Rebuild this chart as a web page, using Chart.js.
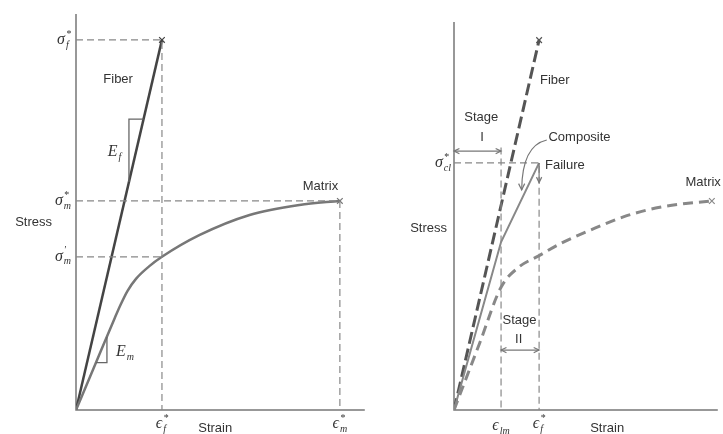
<!DOCTYPE html>
<html>
<head>
<meta charset="utf-8">
<script src="https://cdn.jsdelivr.net/npm/chart.js@4.4.1/dist/chart.umd.min.js"></script>
<style>
  body { margin: 0; background: #fff; width: 723px; height: 434px; overflow: hidden; position: relative; }
  canvas { position: absolute; top: 0; }
  #left { left: 0; }
  #right { left: 370px; }
</style>
</head>
<body>
<canvas id="left" width="370" height="434"></canvas>
<canvas id="right" width="353" height="434"></canvas>
<script>
// strain in units of the fiber failure strain, stress in arbitrary units

// left panel: fiber and matrix alone
const fiberStrain = [0, 1.0];
const fiberStress = [0, 10.0];
const matrixStrain = [0, 0.2, 0.45, 0.52, 0.6, 0.7, 0.85, 1.0, 1.44, 2.02, 2.6, 3.07];
const matrixStress = [0, 1.1, 2.48, 2.85, 3.22, 3.55, 3.88, 4.14, 4.73, 5.27, 5.54, 5.65];
const leftStressMarks = [10.0, 5.65, 4.14];   // sigma_f*, sigma_m*, sigma_m'
const leftStrainMarks = [1.0, 3.07];          // eps_f*, eps_m*

// right panel: composite
const fiber2Strain = [0, 1.0];
const fiber2Stress = [0, 10.0];
const compositeStrain = [0, 0.553, 1.0];
const compositeStress = [0, 4.54, 6.68];
const matrix2Strain = [0, 0.3, 0.553, 0.76, 0.99, 1.26, 1.6, 1.99, 2.37, 2.75, 3.03];
const matrix2Stress = [0, 1.8, 3.32, 3.86, 4.16, 4.51, 4.86, 5.22, 5.46, 5.59, 5.65];
const rightStressMarks = [6.68];              // sigma_cl*
const rightStrainMarks = [0.553, 1.0];        // eps_lm, eps_f*

const TXT = '#333';
const GUIDE = '#888';
const SANS = '"Liberation Sans", Arial, sans-serif';
const SERIF = '"Liberation Serif", "DejaVu Serif", serif';

function pts(xs, ys) {
  return xs.map((x, i) => ({ x: x, y: ys[i] }));
}

function guide(points) {
  return {
    data: points, showLine: true, borderColor: GUIDE, borderWidth: 1.2,
    borderDash: [7, 4], pointRadius: 0, fill: false
  };
}

function sym(ctx, x, y, base, sub, sup, align) {
  const big = 'italic 16px ' + SERIF;
  const small = 'italic 10px ' + SERIF;
  ctx.font = big;
  const wb = ctx.measureText(base).width;
  ctx.font = small;
  const ws = Math.max(sub ? ctx.measureText(sub).width : 0, sup ? ctx.measureText(sup).width : 0);
  const total = wb + 1 + ws;
  let x0 = x;
  if (align === 'right') x0 = x - total;
  if (align === 'center') x0 = x - total / 2;
  ctx.fillStyle = TXT;
  ctx.textAlign = 'left';
  ctx.textBaseline = 'middle';
  ctx.font = big;
  ctx.fillText(base, x0, y);
  ctx.font = small;
  if (sup) ctx.fillText(sup, x0 + wb + 1, y - 6);
  if (sub) ctx.fillText(sub, x0 + wb + 1, y + 5);
}

function label(ctx, text, x, y, align) {
  ctx.font = '13px ' + SANS;
  ctx.fillStyle = TXT;
  ctx.textAlign = align || 'left';
  ctx.textBaseline = 'middle';
  ctx.fillText(text, x, y);
}

function head(ctx, x, y, ang, size) {
  ctx.beginPath();
  ctx.moveTo(x - size * Math.cos(ang - 0.45), y - size * Math.sin(ang - 0.45));
  ctx.lineTo(x, y);
  ctx.lineTo(x - size * Math.cos(ang + 0.45), y - size * Math.sin(ang + 0.45));
  ctx.stroke();
}

function doubleArrow(ctx, x1, x2, y) {
  ctx.beginPath();
  ctx.moveTo(x1, y);
  ctx.lineTo(x2, y);
  ctx.stroke();
  head(ctx, x1, y, Math.PI, 6);
  head(ctx, x2, y, 0, 6);
}

function drawAxes(ctx, area) {
  ctx.save();
  ctx.strokeStyle = '#777';
  ctx.lineWidth = 1.5;
  ctx.beginPath();
  ctx.moveTo(area.left, area.top);
  ctx.lineTo(area.left, area.bottom);
  ctx.lineTo(area.right, area.bottom);
  ctx.stroke();
  ctx.restore();
}

const axesPlugin = {
  id: 'axesLines',
  beforeDatasetsDraw(chart) { drawAxes(chart.ctx, chart.chartArea); }
};

function makeChart(id, datasets, xmax, ymax, padding, extras) {
  return new Chart(document.getElementById(id), {
    type: 'scatter',
    data: { datasets: datasets },
    options: {
      responsive: false,
      animation: false,
      layout: { padding: padding },
      plugins: { legend: { display: false }, tooltip: { enabled: false } },
      scales: {
        x: { type: 'linear', display: false, min: 0, max: xmax },
        y: { type: 'linear', display: false, min: 0, max: ymax }
      }
    },
    plugins: [axesPlugin, { id: 'extras', afterDraw: extras }]
  });
}

// ---------- left chart ----------
makeChart('left', [
  guide([{ x: 0, y: leftStressMarks[0] }, { x: leftStrainMarks[0], y: leftStressMarks[0] }, { x: leftStrainMarks[0], y: 0 }]),
  guide([{ x: 0, y: leftStressMarks[1] }, { x: leftStrainMarks[1], y: leftStressMarks[1] }, { x: leftStrainMarks[1], y: 0 }]),
  guide([{ x: 0, y: leftStressMarks[2] }, { x: leftStrainMarks[0], y: leftStressMarks[2] }]),
  // slope triangles
  { data: [{ x: 0.616, y: 6.16 }, { x: 0.616, y: 7.86 }, { x: 0.786, y: 7.86 }], showLine: true,
    borderColor: '#666', borderWidth: 1.3, pointRadius: 0 },
  { data: [{ x: 0.233, y: 1.28 }, { x: 0.36, y: 1.28 }, { x: 0.36, y: 1.98 }], showLine: true,
    borderColor: '#666', borderWidth: 1.3, pointRadius: 0 },
  { data: pts(matrixStrain, matrixStress), showLine: true, borderColor: '#777', borderWidth: 2.5,
    cubicInterpolationMode: 'monotone',
    pointRadius: matrixStrain.map((v, i) => i === matrixStrain.length - 1 ? 4 : 0),
    pointStyle: 'crossRot', pointBorderWidth: 1.2, pointBorderColor: '#777' },
  { data: pts(fiberStrain, fiberStress), showLine: true, borderColor: '#444', borderWidth: 2.5,
    pointRadius: [0, 4], pointStyle: 'crossRot', pointBorderWidth: 1.2, pointBorderColor: '#444' }
], 3.36, 10.7, { left: 76, right: 5, top: 14, bottom: 24 }, function (chart) {
  const ctx = chart.ctx, xs = chart.scales.x, ys = chart.scales.y;
  const a = chart.chartArea;
  ctx.save();
  sym(ctx, a.left - 5, ys.getPixelForValue(leftStressMarks[0]), 'σ', 'f', '*', 'right');
  sym(ctx, a.left - 5, ys.getPixelForValue(leftStressMarks[1]), 'σ', 'm', '*', 'right');
  sym(ctx, a.left - 5, ys.getPixelForValue(leftStressMarks[2]), 'σ', 'm', '′', 'right');
  sym(ctx, xs.getPixelForValue(leftStrainMarks[0]), a.bottom + 14, 'ϵ', 'f', '*', 'center');
  sym(ctx, xs.getPixelForValue(leftStrainMarks[1]), a.bottom + 14, 'ϵ', 'm', '*', 'center');
  label(ctx, 'Stress', a.left - 24, ys.getPixelForValue(5.08), 'right');
  label(ctx, 'Strain', xs.getPixelForValue(1.62), a.bottom + 18, 'center');
  label(ctx, 'Fiber', xs.getPixelForValue(0.49), ys.getPixelForValue(8.92), 'center');
  label(ctx, 'Matrix', xs.getPixelForValue(3.05), ys.getPixelForValue(6.05), 'right');
  sym(ctx, xs.getPixelForValue(0.37), ys.getPixelForValue(6.97), 'E', 'f', '', 'left');
  sym(ctx, xs.getPixelForValue(0.465), ys.getPixelForValue(1.57), 'E', 'm', '', 'left');
  ctx.restore();
});

// ---------- right chart ----------
makeChart('right', [
  guide([{ x: 0, y: rightStressMarks[0] }, { x: rightStrainMarks[1], y: rightStressMarks[0] }, { x: rightStrainMarks[1], y: 0 }]),
  guide([{ x: rightStrainMarks[0], y: 7.1 }, { x: rightStrainMarks[0], y: 0 }]),
  { data: pts(matrix2Strain, matrix2Stress), showLine: true, borderColor: '#888', borderWidth: 3,
    borderDash: [10, 6], cubicInterpolationMode: 'monotone',
    pointRadius: matrix2Strain.map((v, i) => i === matrix2Strain.length - 1 ? 4 : 0),
    pointStyle: 'crossRot', pointBorderWidth: 1.2, pointBorderColor: '#888' },
  { data: pts(compositeStrain, compositeStress), showLine: true, borderColor: '#888', borderWidth: 2,
    pointRadius: 0 },
  { data: pts(fiber2Strain, fiber2Stress), showLine: true, borderColor: '#555', borderWidth: 3,
    borderDash: [12, 5], pointRadius: [0, 4], pointStyle: 'crossRot', pointBorderWidth: 1.2,
    pointBorderColor: '#555' }
], 3.1, 10.49, { left: 84, right: 0, top: 22, bottom: 24 }, function (chart) {
  const ctx = chart.ctx, xs = chart.scales.x, ys = chart.scales.y;
  const a = chart.chartArea;
  const px = v => xs.getPixelForValue(v), py = v => ys.getPixelForValue(v);
  ctx.save();
  sym(ctx, a.left - 3, py(rightStressMarks[0]), 'σ', 'cl', '*', 'right');
  sym(ctx, px(rightStrainMarks[0]), a.bottom + 16, 'ϵ', 'lm', '', 'center');
  sym(ctx, px(rightStrainMarks[1]), a.bottom + 14, 'ϵ', 'f', '*', 'center');
  label(ctx, 'Stress', a.left - 7, py(4.92), 'right');
  label(ctx, 'Strain', px(1.8), a.bottom + 18, 'center');
  label(ctx, 'Fiber', px(1.01), py(8.92), 'left');
  label(ctx, 'Matrix', px(2.72), py(6.14), 'left');
  label(ctx, 'Composite', px(1.11), py(7.38), 'left');
  label(ctx, 'Failure', px(1.07), py(6.62), 'left');
  label(ctx, 'Stage', px(0.32), py(7.92), 'center');
  label(ctx, 'I', px(0.33), py(7.38), 'center');
  label(ctx, 'Stage', px(0.77), py(2.41), 'center');
  label(ctx, 'II', px(0.76), py(1.92), 'center');

  ctx.strokeStyle = '#777';
  ctx.lineWidth = 1.2;
  doubleArrow(ctx, px(0), px(rightStrainMarks[0]), py(7.0));
  doubleArrow(ctx, px(rightStrainMarks[0]), px(rightStrainMarks[1]), py(1.62));

  // failure drop
  ctx.beginPath();
  ctx.moveTo(px(1.0), py(6.68));
  ctx.lineTo(px(1.0), py(6.15));
  ctx.stroke();
  head(ctx, px(1.0), py(6.15), Math.PI / 2, 6);

  // pointer from "Composite" to its curve
  ctx.beginPath();
  ctx.moveTo(px(1.09), py(7.3));
  ctx.quadraticCurveTo(px(0.8), py(7.15), px(0.795), py(5.95));
  ctx.stroke();
  head(ctx, px(0.795), py(5.95), Math.PI / 2, 7);
  ctx.restore();
});
</script>
</body>
</html>
